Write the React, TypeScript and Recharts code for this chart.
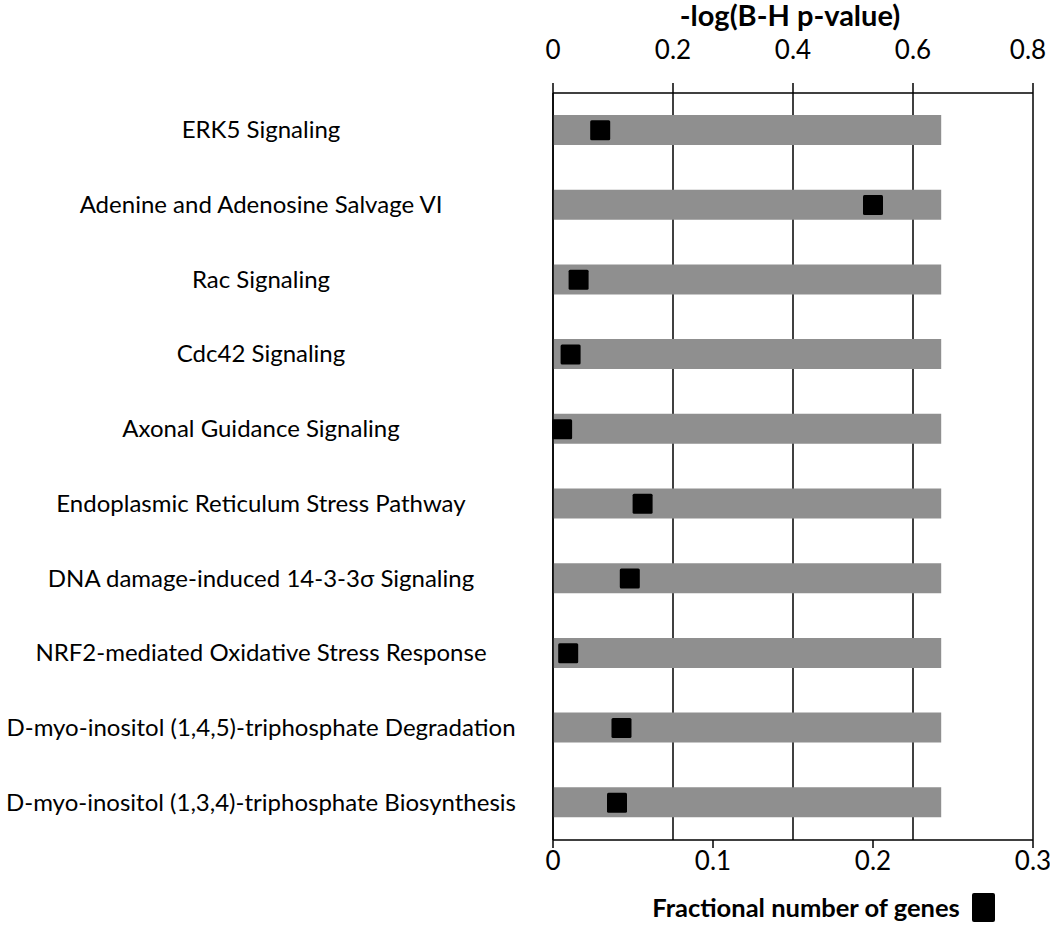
import {
  ComposedChart,
  Bar,
  Scatter,
  XAxis,
  YAxis,
  CartesianGrid,
} from 'recharts';

const pathways = [
  'ERK5 Signaling',
  'Adenine and Adenosine Salvage VI',
  'Rac Signaling',
  'Cdc42 Signaling',
  'Axonal Guidance Signaling',
  'Endoplasmic Reticulum Stress Pathway',
  'DNA damage-induced 14-3-3σ Signaling',
  'NRF2-mediated Oxidative Stress Response',
  'D-myo-inositol (1,4,5)-triphosphate Degradation',
  'D-myo-inositol (1,3,4)-triphosphate Biosynthesis',
];

// -log(B-H p-value), top axis
const pValues = [0.647, 0.647, 0.647, 0.647, 0.647, 0.647, 0.647, 0.647, 0.647, 0.647];

// fractional number of genes, bottom axis
const geneFractions = [0.0295, 0.2, 0.016, 0.011, 0.0057, 0.056, 0.048, 0.0095, 0.0428, 0.04];

const topTicks = [0, 0.2, 0.4, 0.6, 0.8];
const bottomTicks = [0, 0.1, 0.2, 0.3];

const data = pathways.map((name, i) => ({
  name,
  pval: pValues[i],
  genes: geneFractions[i],
}));

const FONT = 'Lato, "Open Sans", sans-serif';

const CategoryTick = (props: any) => {
  const { y, payload } = props;
  return (
    <text x={261} y={y} dy={8} textAnchor="middle" fontSize={24} fill="#000" fontFamily={FONT}>
      {payload.value}
    </text>
  );
};

const TopTick = (props: any) => {
  const { x, y, payload } = props;
  const shift = payload.value === 0.8 ? -5 : 0;
  return (
    <text x={x + shift} y={y} dy={2} textAnchor="middle" fontSize={26} fill="#000" fontFamily={FONT}>
      {String(payload.value)}
    </text>
  );
};

const SquareDot = (props: any) => {
  const { cx, cy } = props;
  return <rect x={cx - 10} y={cy - 10} width={20} height={20} rx={1.5} fill="#000" />;
};

const TopTitle = (props: any) => {
  const { viewBox } = props;
  const cx = viewBox.x + viewBox.width / 2;
  return (
    <text x={cx - 3} y={26} textAnchor="middle" fontSize={29} fontWeight="bold" fontFamily={FONT} fill="#000">
      -log(B-H p-value)
    </text>
  );
};

const BottomLabel = (props: any) => {
  const { viewBox } = props;
  const cx = viewBox.x + viewBox.width / 2;
  const y = viewBox.y;
  return (
    <g>
      <text x={cx + 13} y={y + 77} textAnchor="middle" fontSize={25.5} fontWeight="bold" fontFamily={FONT} fill="#000">
        Fractional number of genes
      </text>
      <rect x={cx + 179} y={y + 53} width={23} height={29} rx={2} fill="#000" />
    </g>
  );
};

export default function App() {
  return (
    <div style={{ position: 'absolute', left: 0, top: 0, width: 1050, height: 926 }}>
      <ComposedChart
        layout="vertical"
        width={1050}
        height={926}
        data={data}
        margin={{ top: 0, right: 17, bottom: 0, left: 0 }}
        style={{ fontFamily: FONT }}
      >
        <CartesianGrid
          xAxisId="top"
          horizontal={false}
          stroke="#000"
          strokeWidth={1.5}
        />
        <XAxis
          xAxisId="top"
          orientation="top"
          type="number"
          dataKey="pval"
          domain={[0, 0.8]}
          ticks={topTicks}
          height={93}
          tickSize={10}
          tickMargin={26}
          stroke="#000"
          strokeWidth={1.5}
          tick={<TopTick />}
          label={<TopTitle />}
        />
        <XAxis
          xAxisId="bottom"
          orientation="bottom"
          type="number"
          dataKey="genes"
          domain={[0, 0.3]}
          ticks={bottomTicks}
          tickFormatter={(v: number) => String(v)}
          height={86}
          tickSize={8}
          tickMargin={4}
          stroke="#000"
          strokeWidth={1.5}
          tick={{ fontSize: 26, fill: '#000' }}
          label={<BottomLabel />}
        />
        <YAxis
          type="category"
          dataKey="name"
          width={553}
          tickLine={false}
          stroke="#000"
          strokeWidth={1.5}
          tick={<CategoryTick />}
          interval={0}
        />
        <Bar
          xAxisId="top"
          dataKey="pval"
          barSize={30}
          fill="#8f8f8f"
          isAnimationActive={false}
        />
        <Scatter
          xAxisId="bottom"
          dataKey="genes"
          shape={<SquareDot />}
          isAnimationActive={false}
        />
      </ComposedChart>
    </div>
  );
}
